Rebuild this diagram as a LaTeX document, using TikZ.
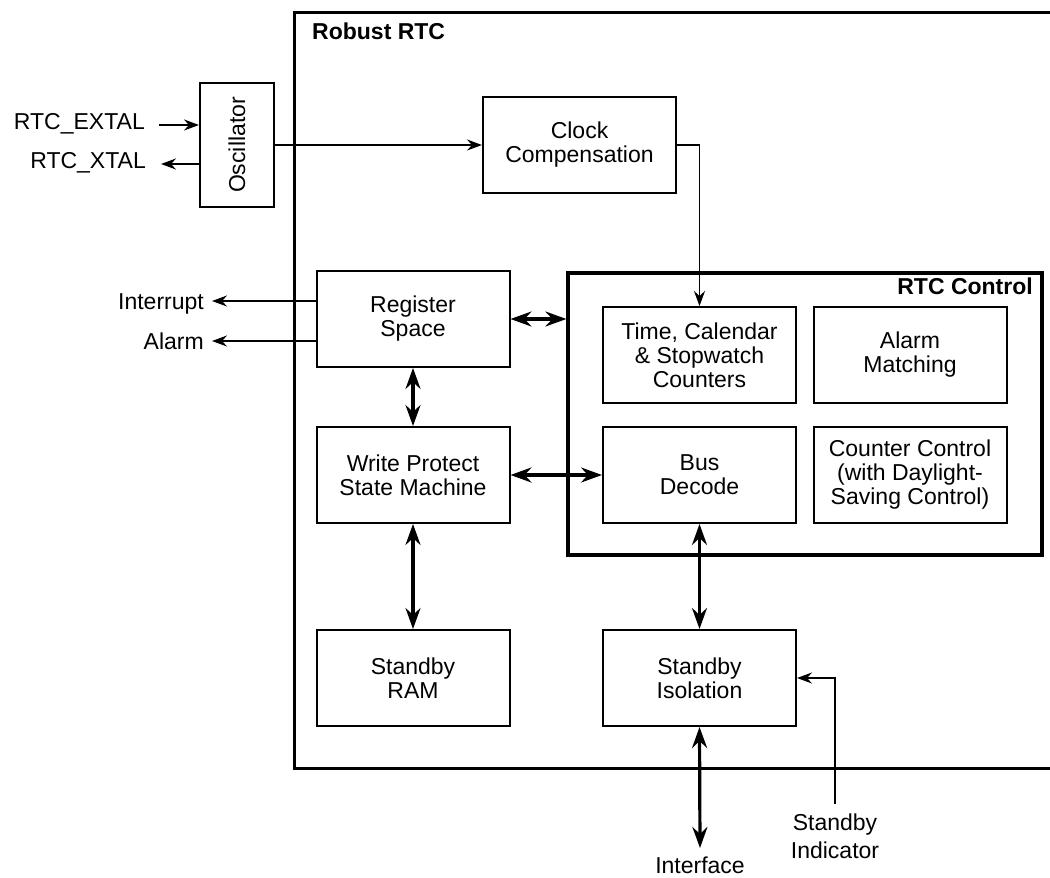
\documentclass[tikz,border=0pt]{standalone}
\usepackage{fontspec}
\setmainfont{Liberation Sans}
\usetikzlibrary{arrows.meta}
\begin{document}
\begin{tikzpicture}[x=1pt,y=-1pt,
  txt/.style={font=\fontsize{23}{24}\selectfont},
  blk/.style={txt,draw,line width=2pt,minimum width=193pt,minimum height=96pt,align=center,inner sep=0pt},
  thin/.style={line width=1.8pt,-{Stealth[length=15pt,width=11pt,inset=5pt]}},
  bidir/.style={line width=3.2pt,{Stealth[length=21pt,width=15pt,inset=7pt]}-{Stealth[length=21pt,width=15pt,inset=7pt]}},
  bold/.style={font=\fontsize{23}{24}\selectfont\bfseries}]
\useasboundingbox (0,0) rectangle (1050,878);
% outer box
\draw[line width=3pt] (1052,12) -- (294,12) -- (294,768) -- (1052,768);
\node[bold,anchor=base west,inner sep=0] (robust) at (312,39) {Robust RTC};
% RTC control
\node[draw,line width=3.2pt,minimum width=474pt,minimum height=282pt,inner sep=0] (ctrl) at (805,414) {};
\node[bold,anchor=base east,inner sep=0] (ctrllbl) at (1033,294) {RTC Control};
% blocks
\node[blk,minimum width=74pt,minimum height=124pt] (osc) at (237,145) {\rotatebox{90}{Oscillator}};
\node[blk] (clk) at (579.5,145) {Clock\\Compensation};
\node[blk] (reg) at (413,319) {Register\\Space};
\node[blk] (wp) at (413,475) {Write Protect\\State Machine};
\node[blk] (ram) at (413,678) {Standby\\RAM};
\node[blk] (tc) at (699.5,355) {Time, Calendar\\\& Stopwatch\\Counters};
\node[blk] (am) at (910,355) {Alarm\\Matching};
\node[blk] (bd) at (699.5,475) {Bus\\Decode};
\node[blk] (cc) at (910,475) {Counter Control\\(with Daylight-\\Saving Control)};
\node[blk] (iso) at (699.5,678) {Standby\\Isolation};
% external labels
\node[txt,anchor=base east,inner sep=0] (extl) at (145,129) {RTC\_EXTAL};
\node[txt,anchor=base east,inner sep=0] (xtl) at (146,168) {RTC\_XTAL};
\node[txt,anchor=base east,inner sep=0] (intl) at (204,309) {Interrupt};
\node[txt,anchor=base east,inner sep=0] (alml) at (204,349) {Alarm};
\node[txt,anchor=base,inner sep=0] (ifl) at (700,873) {Interface};
\node[txt,anchor=base,inner sep=0] (sbl1) at (835,830) {Standby};
\node[txt,anchor=base,inner sep=0] (sbl2) at (835,858) {Indicator};
% coordinates
\coordinate (extS) at (159,125);
\coordinate (xtE) at (161,164);
\coordinate (intE) at (212,301);
\coordinate (almE) at (212,341);
\coordinate (ifE) at (700,848);
\coordinate (sbS) at (835,804);
% connectors
\draw[thin] (extS) -- (osc.west |- extS);
\draw[thin] (osc.west |- xtE) -- (xtE);
\draw[thin] (reg.west |- intE) -- (intE);
\draw[thin] (reg.west |- almE) -- (almE);
\draw[thin] (osc.east) -- (clk.west);
\draw[thin] (clk.east) -| (tc.north);
\draw[thin] (sbS) |- (iso.east);
\draw[bidir] (reg.east) -- (ctrl.west |- reg.east);
\draw[bidir] (reg.south) -- (wp.north);
\draw[bidir] (wp.east) -- (bd.west);
\draw[bidir] (wp.south) -- (ram.north);
\draw[bidir] (bd.south) -- (iso.north);
\draw[bidir] (iso.south) -- (ifE);
\end{tikzpicture}
\end{document}
